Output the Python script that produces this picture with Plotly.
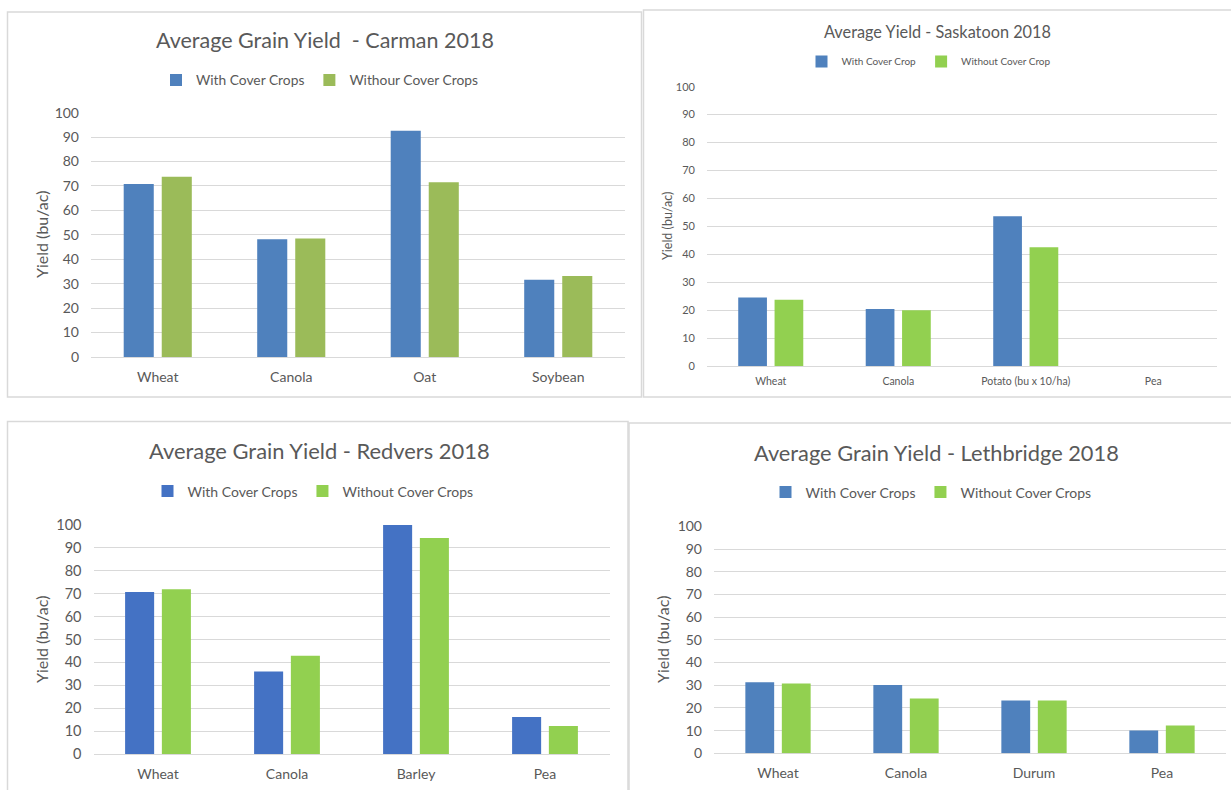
import plotly.graph_objects as go

W, H = 1231, 790

# ---------------- data ----------------
carman_categories = ["Wheat", "Canola", "Oat", "Soybean"]
carman_with = [70.8, 48.2, 92.6, 31.6]
carman_without = [73.8, 48.5, 71.5, 33.2]

saskatoon_categories = ["Wheat", "Canola", "Potato (bu x 10/ha)", "Pea"]
saskatoon_with = [24.5, 20.4, 53.6, None]
saskatoon_without = [23.7, 20.0, 42.5, None]

redvers_categories = ["Wheat", "Canola", "Barley", "Pea"]
redvers_with = [70.7, 36.0, 100.3, 16.2]
redvers_without = [71.9, 42.9, 94.3, 12.2]

lethbridge_categories = ["Wheat", "Canola", "Durum", "Pea"]
lethbridge_with = [31.3, 30.1, 23.3, 10.0]
lethbridge_without = [30.8, 24.1, 23.3, 12.2]

y_ticks = list(range(0, 101, 10))


def px(x):
    return x / W


def py(y):
    return 1 - y / H


FONT = "Lato, 'Open Sans', sans-serif"
TXT = "#595959"
GRID = "#D9D9D9"

panels = [
    dict(title="Average Grain Yield  - Carman 2018", cats=carman_categories,
         s1=carman_with, s2=carman_without,
         n1="With Cover Crops", n2="Withour Cover Crops",
         c1="#4F81BD", c2="#9BBB59",
         xd=(91, 625), y0=357, y100=112.7,
         title_xy=(325, 40), title_size=21.5,
         leg_xy=(320, 80), leg_size=13.8,
         tick_size=14, cat_size=14, cat_standoff=10,
         ax_xy=(41, 235), ax_size=16,
         box=(7.5, 12, 641.5, 397)),
    dict(title="Average Yield - Saskatoon 2018", cats=saskatoon_categories,
         s1=saskatoon_with, s2=saskatoon_without,
         n1="With Cover Crop", n2="Without Cover Crop",
         c1="#4F81BD", c2="#92D050",
         xd=(707, 1217), y0=366, y100=86.7,
         title_xy=(937, 31.5), title_size=16.3,
         leg_xy=(929, 61.5), leg_size=10,
         tick_size=11, cat_size=10.5, cat_standoff=7,
         ax_xy=(668, 226), ax_size=12.5,
         box=(643.5, 10, 1240, 397)),
    dict(title="Average Grain Yield - Redvers 2018", cats=redvers_categories,
         s1=redvers_with, s2=redvers_without,
         n1="With Cover Crops", n2="Without Cover Crops",
         c1="#4472C4", c2="#92D050",
         xd=(93.5, 609.5), y0=754, y100=525,
         title_xy=(319, 450.5), title_size=21.9,
         leg_xy=(313, 491.5), leg_size=14,
         tick_size=14.5, cat_size=14, cat_standoff=10,
         ax_xy=(41, 640), ax_size=16,
         box=(7.5, 421.5, 628, 800)),
    dict(title="Average Grain Yield - Lethbridge 2018", cats=lethbridge_categories,
         s1=lethbridge_with, s2=lethbridge_without,
         n1="With Cover Crops", n2="Without Cover Crops",
         c1="#4F81BD", c2="#92D050",
         xd=(714, 1226), y0=753.3, y100=526.3,
         title_xy=(936, 452.5), title_size=21.8,
         leg_xy=(931, 492.5), leg_size=14,
         tick_size=14, cat_size=14, cat_standoff=10,
         ax_xy=(662, 640), ax_size=16,
         box=(629, 423, 1240, 800)),
]

fig = go.Figure()
annotations = []
shapes = []
layout_axes = {}

for i, p in enumerate(panels, start=1):
    sfx = "" if i == 1 else str(i)
    leg = "legend" if i == 1 else f"legend{i}"
    xa, ya = f"x{sfx}", f"y{sfx}"

    fig.add_trace(go.Bar(x=p["cats"], y=p["s1"], name=p["n1"],
                         marker=dict(color=p["c1"], line=dict(width=0)),
                         xaxis=xa, yaxis=ya, legend=leg, hoverinfo="x+y+name"))
    fig.add_trace(go.Bar(x=p["cats"], y=p["s2"], name=p["n2"],
                         marker=dict(color=p["c2"], line=dict(width=0)),
                         xaxis=xa, yaxis=ya, legend=leg, hoverinfo="x+y+name"))

    layout_axes[f"xaxis{sfx}"] = dict(
        domain=[px(p["xd"][0]), px(p["xd"][1])], anchor=ya, automargin=False,
        showgrid=False, showline=False, zeroline=False, ticks="",
        tickfont=dict(family=FONT, size=p["cat_size"], color=TXT),
        ticklabelstandoff=p["cat_standoff"], fixedrange=True)
    layout_axes[f"yaxis{sfx}"] = dict(
        domain=[py(p["y0"]), py(p["y100"])], anchor=xa, range=[0, 100],
        automargin=False,
        tickvals=y_ticks, showgrid=True, gridcolor=GRID, gridwidth=1,
        zeroline=True, zerolinecolor=GRID, zerolinewidth=1,
        showline=False, ticks="",
        tickfont=dict(family=FONT, size=p["tick_size"], color=TXT),
        ticklabelstandoff=11, fixedrange=True)

    layout_axes[leg] = dict(
        orientation="h", x=px(p["leg_xy"][0]), y=py(p["leg_xy"][1]),
        xanchor="center", yanchor="middle", bgcolor="rgba(0,0,0,0)",
        font=dict(family=FONT, size=p["leg_size"], color=TXT),
        itemwidth=30, tracegroupgap=0, traceorder="normal")

    annotations.append(dict(
        text=p["title"], x=px(p["title_xy"][0]), y=py(p["title_xy"][1]),
        xref="paper", yref="paper", xanchor="center", yanchor="middle",
        showarrow=False, font=dict(family=FONT, size=p["title_size"], color=TXT)))
    annotations.append(dict(
        text="Yield (bu/ac)", x=px(p["ax_xy"][0]), y=py(p["ax_xy"][1]),
        xref="paper", yref="paper", xanchor="center", yanchor="middle",
        textangle=-90, showarrow=False,
        font=dict(family=FONT, size=p["ax_size"], color=TXT)))

    b = p["box"]
    shapes.append(dict(type="rect", xref="paper", yref="paper",
                       x0=px(b[0]), x1=px(b[2]), y0=py(b[3]), y1=py(b[1]),
                       line=dict(color="#D9D9D9", width=1.5), fillcolor="rgba(0,0,0,0)",
                       layer="below"))

fig.update_layout(
    width=W, height=H, autosize=False,
    margin=dict(l=0, r=0, t=0, b=0, pad=0, autoexpand=False),
    paper_bgcolor="white", plot_bgcolor="white",
    barmode="group", bargap=0.43, bargroupgap=0.21,
    annotations=annotations, shapes=shapes,
    font=dict(family=FONT, color=TXT),
    **layout_axes,
)

fig.write_html(
    "out.html",
    config={"displayModeBar": False},
    post_script="document.body.style.margin='0';document.body.style.overflow='hidden';",
)
